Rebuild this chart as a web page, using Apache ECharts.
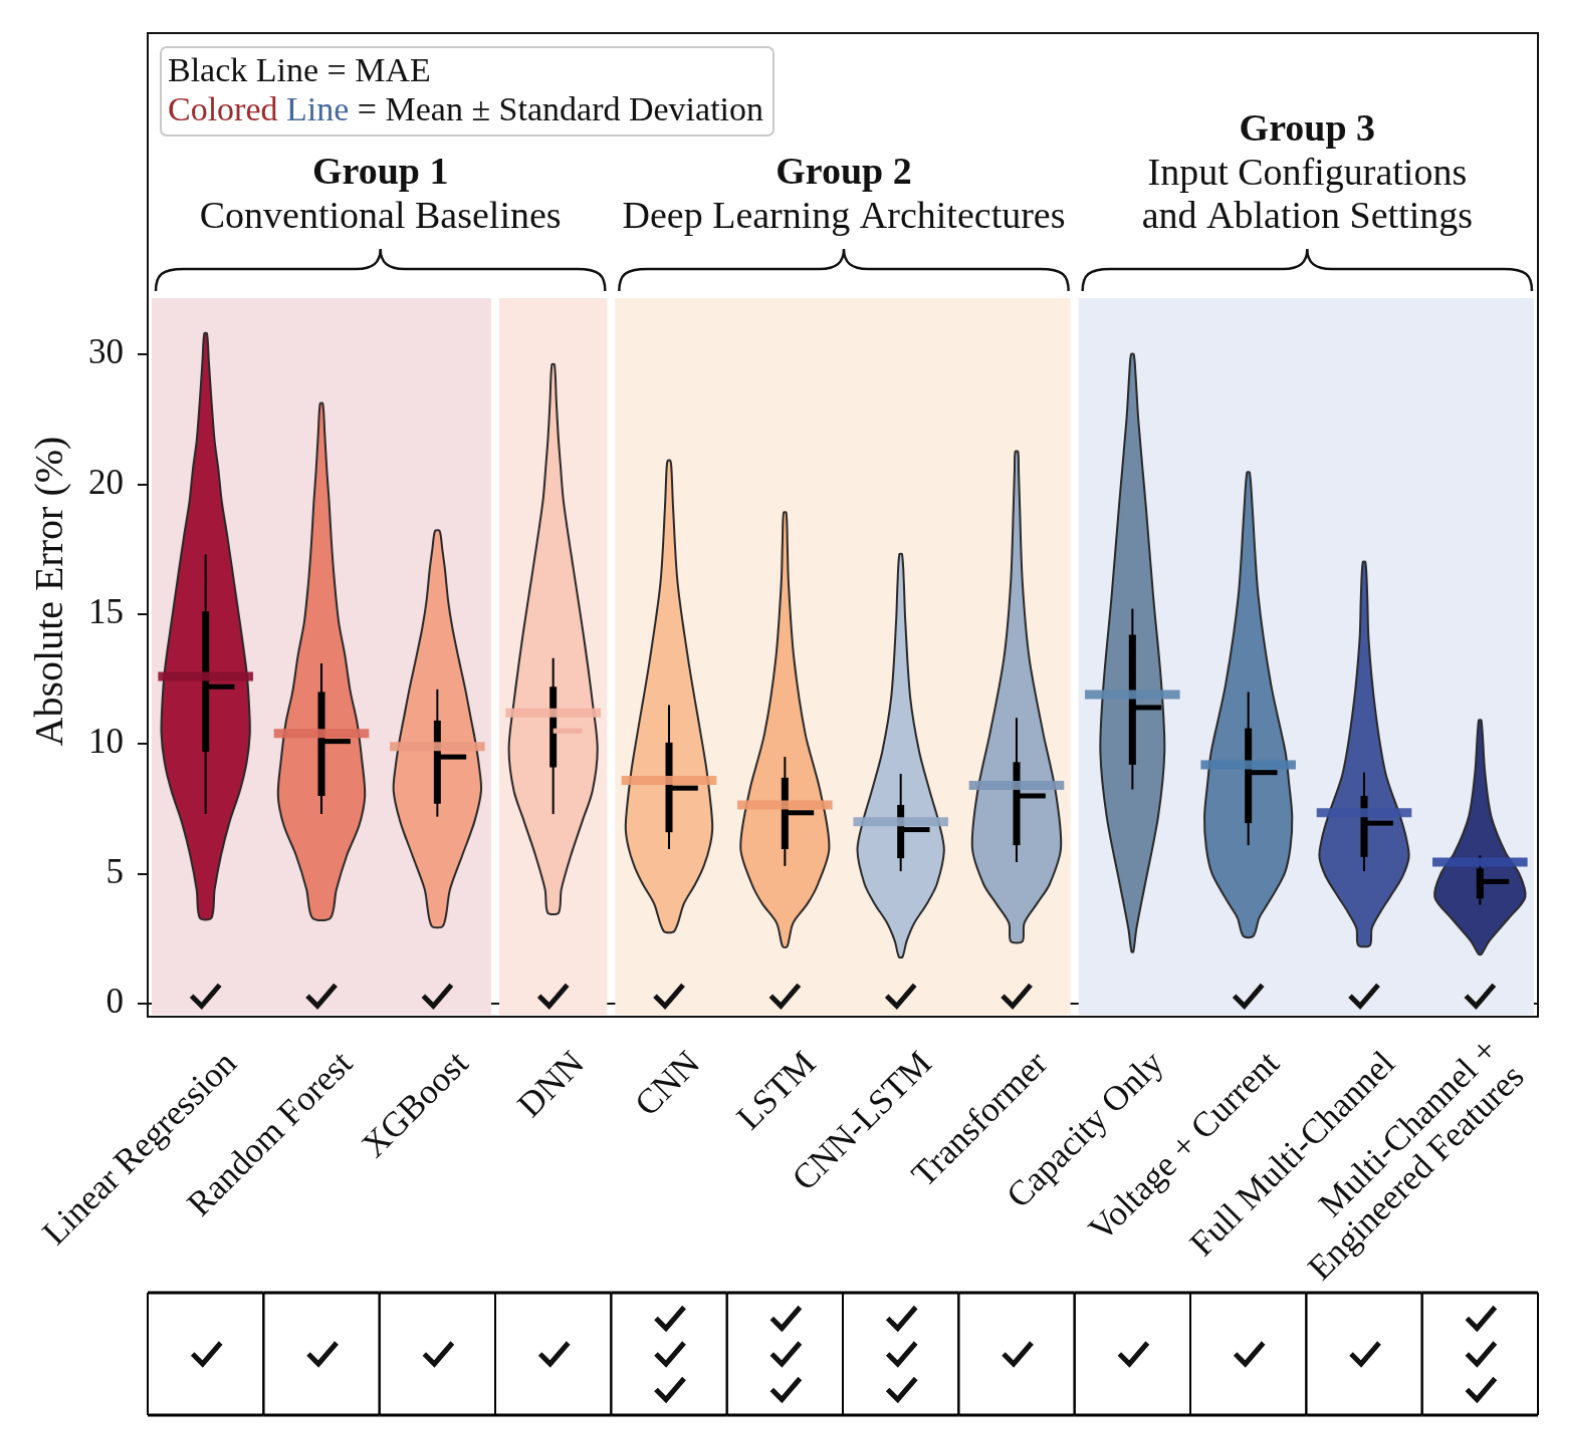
<!DOCTYPE html>
<html>
<head>
<meta charset="utf-8">
<title>Absolute Error by Model</title>
<script src="https://cdn.jsdelivr.net/npm/echarts@6.0.0/dist/echarts.min.js"></script>
<style>
html,body{margin:0;padding:0;background:#ffffff;overflow:hidden;}
#wrap{position:absolute;left:0;top:0;width:1575px;height:1433px;transform-origin:0 0;transform:scale(1.0045,1.0036);}
#chart{width:1575px;height:1433px;}
</style>
</head>
<body>
<div id="wrap"><div id="chart"></div></div>
<script>
// ---------------- data ----------------
const categories = ['Linear Regression','Random Forest','XGBoost','DNN','CNN','LSTM','CNN-LSTM','Transformer',
  'Capacity Only','Voltage + Current','Full Multi-Channel','Multi-Channel +\nEngineered Features'];
const yTickValues = [0, 5, 10, 15, 20, 30];

const meanValues  = [12.6, 10.4, 9.9, 11.2, 8.6, 7.65, 7.0, 8.4, 11.9, 9.2, 7.35, 5.45];
const maeValues   = [12.2, 10.1, 9.5, 10.5, 8.3, 7.35, 6.7, 8.0, 11.4, 8.9, 6.95, 4.7];
const boxLow      = [9.7, 8.0, 7.7, 9.1, 6.6, 5.95, 5.6, 6.1, 9.2, 6.95, 5.65, 4.05];
const boxHigh     = [15.1, 12.0, 10.9, 12.2, 10.05, 8.7, 7.65, 9.3, 14.2, 10.6, 8.0, 5.2];
const whiskerLow  = [7.3, 7.3, 7.2, 7.3, 5.95, 5.3, 5.1, 5.45, 8.25, 6.1, 5.1, 3.8];
const whiskerHigh = [17.3, 13.1, 12.1, 13.3, 11.5, 9.5, 8.85, 11.0, 15.2, 12.0, 8.9, 5.7];

const plotChecks  = [1,1,1,1,1,1,1,1,0,1,1,1];
const tableChecks = [1,1,1,1,3,3,3,1,1,1,1,3];

// violin outlines: [value, relative density (half width)]
const violinLinearRegression = [[3.3,0.13],[4.4,0.20],[5.7,0.34],[7.0,0.53],[8.2,0.76],[9.3,0.91],[10.4,0.98],[11.6,0.96],[12.9,0.90],[15.5,0.69],[18.0,0.48],[19.3,0.36],[21.2,0.28],[23.3,0.20],[26.4,0.13],[29.5,0.07],[31.6,0.03]];
const violinRandomForest = [[3.3,0.20],[4.4,0.33],[5.7,0.56],[6.9,0.84],[8.0,0.96],[9.3,0.90],[10.8,0.79],[12.0,0.64],[13.4,0.52],[14.7,0.38],[16.2,0.29],[17.8,0.22],[19.3,0.17],[21.0,0.12],[24.0,0.07],[26.2,0.03]];
const violinXGBoost = [[3.0,0.13],[4.4,0.28],[5.7,0.55],[7.0,0.82],[8.2,0.97],[9.2,0.92],[10.2,0.83],[11.1,0.73],[12.1,0.62],[13.3,0.47],[14.5,0.33],[15.5,0.24],[16.7,0.17],[17.5,0.11],[18.2,0.05]];
const violinDNN = [[3.5,0.12],[4.4,0.18],[5.7,0.39],[7.0,0.64],[8.2,0.87],[9.8,0.98],[11.6,0.87],[14.2,0.67],[16.7,0.45],[19.3,0.23],[21.5,0.16],[23.8,0.11],[26.4,0.07],[29.2,0.03]];
const violinCNN = [[2.8,0.12],[3.85,0.33],[4.6,0.58],[5.3,0.77],[6.1,0.91],[6.9,0.96],[8.9,0.84],[10.4,0.70],[13.3,0.42],[16.2,0.19],[19.1,0.09],[21.1,0.055],[21.8,0.03]];
const violinLSTM = [[2.2,0.05],[3.1,0.18],[3.85,0.50],[4.6,0.73],[6.0,0.98],[8.2,0.78],[10.4,0.45],[13.3,0.20],[16.2,0.08],[17.7,0.055],[18.9,0.03]];
const violinCNNLSTM = [[1.8,0.04],[2.4,0.13],[3.1,0.30],[3.85,0.58],[4.6,0.80],[5.9,0.96],[7.0,0.84],[8.2,0.64],[9.7,0.41],[11.8,0.21],[14.8,0.10],[16.2,0.07],[17.3,0.03]];
const violinTransformer = [[2.4,0.13],[3.1,0.17],[3.85,0.45],[4.6,0.73],[6.0,0.98],[8.2,0.86],[10.4,0.59],[13.3,0.28],[16.2,0.13],[19.1,0.07],[21.1,0.045],[22.5,0.03]];
const violinCapacityOnly = [[2.0,0.02],[2.9,0.09],[4.6,0.28],[7.2,0.57],[9.7,0.71],[12.3,0.64],[15.7,0.46],[19.1,0.30],[25.0,0.13],[28.4,0.07],[30.0,0.03]];
const violinVoltageCurrent = [[2.6,0.11],[3.3,0.24],[3.9,0.45],[5.0,0.80],[6.0,0.93],[7.2,0.97],[8.5,0.90],[9.7,0.82],[12.3,0.50],[15.7,0.22],[19.1,0.09],[20.9,0.03]];
const violinFullMultiChannel = [[2.25,0.13],[2.9,0.17],[3.5,0.35],[4.1,0.57],[4.9,0.85],[5.65,0.99],[6.4,0.93],[7.2,0.80],[8.9,0.47],[11.4,0.24],[14.0,0.10],[15.7,0.07],[17.0,0.03]];
const violinMultiChannelEngineered = [[1.9,0.03],[2.4,0.20],[3.3,0.64],[4.1,1.0],[5.0,0.87],[5.8,0.57],[7.2,0.25],[8.9,0.11],[10.9,0.03]];
const violinProfiles = [violinLinearRegression, violinRandomForest, violinXGBoost, violinDNN, violinCNN, violinLSTM,
  violinCNNLSTM, violinTransformer, violinCapacityOnly, violinVoltageCurrent, violinFullMultiChannel, violinMultiChannelEngineered];

const bandRanges = [[0,2],[3,3],[4,7],[8,11]];
const groupRanges = [[0,3],[4,7],[8,11]];
const groupTitles = ['Group 1','Group 2','Group 3'];
const groupSubtitles = ['Conventional Baselines','Deep Learning Architectures','Input Configurations\nand Ablation Settings'];

// ---------------- styles ----------------
const fillColors = ['#a3173a','#e8826e','#f3a488','#f9cab9','#f9bf97','#f7b78a','#b4c3d7','#9dafc6','#7089a5','#5f82a9','#45579c','#2f387a'];
const meanColors = ['#8a1030','#dc6c5c','#eb9a82','#f3b3a2','#ee9c70','#ee9a70','#8fa5c2','#7b94b5','#5f87ae','#4c7cab','#3c52a2','#3048a0'];
const maeColors  = ['#000','#000','#000','#f0b0a2','#000','#000','#000','#000','#000','#000','#000','#000'];
const bandColors = ['#f4dfe2','#fce6e0','#fdeee2','#e8ecf6'];
const SERIF = '"Liberation Serif", "Times New Roman", serif';
const BAND_TOP = 27.16;
const Y_MIN = -0.5, Y_MAX = 37.36;
const CHECK_SHAPE = [[-14, 0], [-4, 10], [14, -11]];

// piecewise axis scale: linear up to 20, compressed by half above 20
const toD = v => v <= 20 ? v : 20 + (v - 20) / 2;
const fromD = d => d <= 20 ? d : 20 + (d - 20) * 2;

const chart = echarts.init(document.getElementById('chart'), null, {renderer: 'canvas', width: 1575, height: 1433});

function checkMark(cx, cy) {
  return {type: 'polyline', shape: {points: CHECK_SHAPE.map(p => [cx + p[0], cy + p[1]])},
    style: {stroke: '#111', lineWidth: 5, fill: null, lineJoin: 'miter', lineCap: 'butt'}};
}

function renderBand(params, api) {
  const k = params.dataIndex;
  const [s, e] = bandRanges[k];
  const bw = api.size([1, 0])[0];
  const x0 = api.coord([s, 0])[0] - bw / 2 + 4;
  const x1 = api.coord([e, 0])[0] + bw / 2 - 4;
  const yTop = api.coord([s, BAND_TOP])[1];
  const yBot = api.coord([s, Y_MIN])[1] - 2;
  return {type: 'rect', shape: {x: x0, y: yTop, width: x1 - x0, height: yBot - yTop}, style: {fill: bandColors[k]}};
}

function renderViolin(params, api) {
  const i = params.dataIndex;
  const prof = violinProfiles[i];
  const bw = api.size([1, 0])[0];
  const sc = bw * 0.39;
  const cx = api.coord([i, 0])[0];
  const right = [], left = [];
  prof.forEach(([v, w]) => {
    const y = api.coord([i, toD(v)])[1];
    right.push([cx + w * sc, y]);
    left.push([cx - w * sc, y]);
  });
  const pts = right.concat(left.reverse());
  const yc = v => api.coord([i, toD(v)])[1];
  return {
    type: 'group',
    children: [
      {type: 'polygon', shape: {points: pts, smooth: 0.3}, style: {fill: fillColors[i], stroke: '#2a2a2a', lineWidth: 2}},
      {type: 'line', shape: {x1: cx, y1: yc(whiskerLow[i]), x2: cx, y2: yc(whiskerHigh[i])}, style: {stroke: '#000', lineWidth: 2}},
      {type: 'line', shape: {x1: cx, y1: yc(boxLow[i]), x2: cx, y2: yc(boxHigh[i])}, style: {stroke: '#000', lineWidth: 7}},
      {type: 'line', shape: {x1: cx, y1: yc(maeValues[i]), x2: cx + bw * 0.25, y2: yc(maeValues[i])}, style: {stroke: maeColors[i], lineWidth: 5}},
      {type: 'line', shape: {x1: cx - bw * 0.41, y1: yc(meanValues[i]), x2: cx + bw * 0.41, y2: yc(meanValues[i])}, style: {stroke: meanColors[i], lineWidth: 9, opacity: 0.9}}
    ]
  };
}

function renderPlotCheck(params, api) {
  const i = params.dataIndex;
  if (!plotChecks[i]) return null;
  const p = api.coord([i, 0.3]);
  return checkMark(p[0], p[1]);
}

function renderXLabel(params, api) {
  const i = params.dataIndex;
  const cx = api.coord([i, 0])[0];
  const yAx = api.coord([i, Y_MIN])[1];
  return {type: 'text', x: cx + 26, y: yAx + 42, rotation: Math.PI / 4,
    style: {text: categories[i], fill: '#111', font: '35px ' + SERIF, align: 'right', verticalAlign: 'middle', lineHeight: 37}};
}

function renderTable(params, api) {
  const i = params.dataIndex;
  const bw = api.size([1, 0])[0];
  const cx = api.coord([i, 0])[0];
  const x0 = cx - bw / 2, x1 = cx + bw / 2;
  const top = 1288, bot = 1410;
  const ch = [
    {type: 'line', shape: {x1: x0, y1: top, x2: x1, y2: top}, style: {stroke: '#000', lineWidth: 3}},
    {type: 'line', shape: {x1: x0, y1: bot, x2: x1, y2: bot}, style: {stroke: '#000', lineWidth: 3}},
    {type: 'line', shape: {x1: x0, y1: top, x2: x0, y2: bot}, style: {stroke: '#000', lineWidth: 2}},
    {type: 'line', shape: {x1: x1, y1: top, x2: x1, y2: bot}, style: {stroke: '#000', lineWidth: 2}}
  ];
  const n = tableChecks[i];
  const mid = (top + bot) / 2;
  for (let k = 0; k < n; k++) {
    ch.push(checkMark(cx + 1, mid + (k - (n - 1) / 2) * 35.5));
  }
  return {type: 'group', children: ch};
}

function renderGroup(params, api) {
  const k = params.dataIndex;
  const [s, e] = groupRanges[k];
  const bw = api.size([1, 0])[0];
  const x0 = api.coord([s, 0])[0] - bw / 2 + 8;
  const x1 = api.coord([e, 0])[0] + bw / 2 - 6;
  const xm = (x0 + x1) / 2;
  const yH = 268, yTip = 248, yEnd = 290;
  const d = 'M' + x0 + ',' + yEnd +
    ' C' + x0 + ',' + (yH + 6) + ' ' + (x0 + 6) + ',' + yH + ' ' + (x0 + 28) + ',' + yH +
    ' L' + (xm - 24) + ',' + yH +
    ' C' + (xm - 8) + ',' + yH + ' ' + xm + ',' + (yH - 6) + ' ' + xm + ',' + yTip +
    ' C' + xm + ',' + (yH - 6) + ' ' + (xm + 8) + ',' + yH + ' ' + (xm + 24) + ',' + yH +
    ' L' + (x1 - 28) + ',' + yH +
    ' C' + (x1 - 6) + ',' + yH + ' ' + x1 + ',' + (yH + 6) + ' ' + x1 + ',' + yEnd;
  const lines = groupSubtitles[k].split('\n').length;
  const subBottom = 239;
  const firstCenter = subBottom - 22 - 43 * (lines - 1);
  return {
    type: 'group',
    children: [
      {type: 'path', shape: {pathData: d}, style: {fill: null, stroke: '#111', lineWidth: 2.5}},
      {type: 'text', x: xm, y: subBottom, style: {text: groupSubtitles[k], fill: '#111', font: '38px ' + SERIF, align: 'center', verticalAlign: 'bottom', lineHeight: 43}},
      {type: 'text', x: xm, y: firstCenter - 44, style: {text: groupTitles[k], fill: '#111', font: 'bold 38px ' + SERIF, align: 'center', verticalAlign: 'middle'}}
    ]
  };
}

const idxData = categories.map((c, i) => [i, 0]);

const option = {
  backgroundColor: '#ffffff',
  animation: false,
  grid: {left: 147, right: 44, top: 33, bottom: 420, show: true, borderColor: '#111', borderWidth: 2,
    backgroundColor: 'transparent', containLabel: false, outerBoundsMode: 'none'},
  xAxis: {
    type: 'category', data: categories, boundaryGap: true,
    axisLine: {show: true, lineStyle: {color: '#111', width: 2}},
    axisTick: {show: true, alignWithLabel: true, length: 10, lineStyle: {color: '#111', width: 2}},
    axisLabel: {show: false},
    splitLine: {show: false}
  },
  yAxis: {
    type: 'value', min: Y_MIN, max: Y_MAX,
    axisLine: {show: true, lineStyle: {color: '#111', width: 2}},
    axisTick: {show: true, length: 10, lineStyle: {color: '#111', width: 2}, customValues: yTickValues.map(toD)},
    axisLabel: {show: true, customValues: yTickValues.map(toD), color: '#111', fontSize: 35, fontFamily: SERIF, margin: 24,
      formatter: d => String(Math.round(fromD(d)))},
    splitLine: {show: false}
  },
  graphic: [
    {type: 'rect', x: 160, y: 47, shape: {width: 610, height: 88, r: 6}, style: {fill: 'rgba(255,255,255,0.92)', stroke: '#c9c9c9', lineWidth: 2}, z: 10},
    {type: 'text', x: 167, y: 72, style: {text: 'Black Line = MAE', fill: '#111', font: '34px ' + SERIF, verticalAlign: 'middle'}, z: 11},
    {type: 'text', x: 167, y: 111, style: {
      text: '{r|Colored} {b|Line} = Mean \u00b1 Standard Deviation', fill: '#111', font: '34px ' + SERIF, verticalAlign: 'middle',
      rich: {r: {fill: '#9e2b2f', fontSize: 34, fontFamily: SERIF}, b: {fill: '#46679a', fontSize: 34, fontFamily: SERIF}}
    }, z: 11},
    {type: 'text', x: 51, y: 589, rotation: Math.PI / 2, style: {text: 'Absolute Error (%)', fill: '#111', font: '40px ' + SERIF, align: 'center', verticalAlign: 'middle'}, z: 11}
  ],
  series: [
    {type: 'custom', name: 'bands', data: bandRanges.map(r => [r[0], 0]), renderItem: renderBand, z: 1, silent: true, clip: false},
    {type: 'custom', name: 'violins', data: idxData, renderItem: renderViolin, z: 3, silent: true, clip: false},
    {type: 'custom', name: 'plotChecks', data: idxData, renderItem: renderPlotCheck, z: 4, silent: true, clip: false},
    {type: 'custom', name: 'xLabels', data: idxData, renderItem: renderXLabel, z: 4, silent: true, clip: false},
    {type: 'custom', name: 'table', data: idxData, renderItem: renderTable, z: 4, silent: true, clip: false},
    {type: 'custom', name: 'groups', data: groupRanges.map(r => [r[0], 0]), renderItem: renderGroup, z: 4, silent: true, clip: false}
  ]
};
chart.setOption(option);
</script>
</body>
</html>
